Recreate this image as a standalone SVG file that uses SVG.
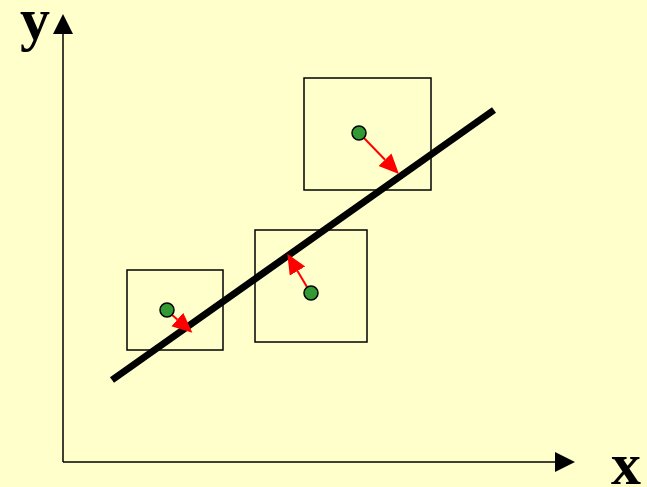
<svg xmlns="http://www.w3.org/2000/svg" width="647" height="487" viewBox="0 0 647 487">
<defs>
<style>
.ax{stroke:#000;stroke-width:1.5;fill:none}
.box{fill:none;stroke:#000;stroke-width:1.5}
.dot{fill:#339933;stroke:#000;stroke-width:1.5}
.err{stroke:#ff0000;stroke-width:2;fill:none}
.lbl{font-family:"Liberation Serif","Times New Roman",serif;font-weight:bold;font-size:60px;fill:#000}
</style>
<marker id="ah" markerUnits="userSpaceOnUse" markerWidth="21" markerHeight="20" refX="0" refY="9" orient="auto">
<path d="M0,0 L20,9 L0,18 z" fill="#ff0000"/>
</marker>
<marker id="axh" markerUnits="userSpaceOnUse" markerWidth="21" markerHeight="20" refX="0" refY="10" orient="auto">
<path d="M0,0 L20,10 L0,20 z" fill="#000"/>
</marker>
</defs>
<rect width="647" height="487" fill="#ffffcc"/>
<g id="axes">
<path class="ax" d="M63,462 L63,34" marker-end="url(#axh)"/>
<path class="ax" d="M63,462 L555,462" marker-end="url(#axh)"/>
<text class="lbl" x="20" y="39">y</text>
<text class="lbl" x="611" y="484">x</text>
</g>
<g id="fit-line">
<line x1="112" y1="380" x2="494" y2="110" stroke="#000" stroke-width="7"/>
</g>
<g id="box1"><rect class="box" x="127" y="270" width="96" height="80"/></g>
<g id="box2"><rect class="box" x="255" y="230" width="112" height="112"/></g>
<g id="box3"><rect class="box" x="304" y="78" width="127" height="112"/></g>
<g id="connectors">
<line class="err" x1="171" y1="314" x2="177.3" y2="319.5" marker-end="url(#ah)"/>
<line class="err" x1="307" y1="287" x2="297.5" y2="271" marker-end="url(#ah)"/>
<line class="err" x1="364" y1="138" x2="385" y2="159.7" marker-end="url(#ah)"/>
</g>
<g id="point1"><circle class="dot" cx="167" cy="310" r="7"/></g>
<g id="point2"><circle class="dot" cx="311" cy="293" r="7"/></g>
<g id="point3"><circle class="dot" cx="359" cy="133" r="7"/></g>
</svg>
